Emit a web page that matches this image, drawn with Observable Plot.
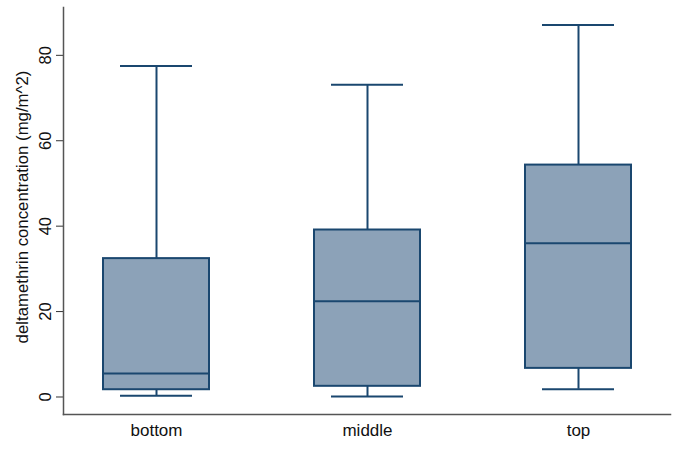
<!DOCTYPE html>
<html>
<head>
<meta charset="utf-8">
<script src="https://cdn.jsdelivr.net/npm/d3@7"></script>
<script src="https://cdn.jsdelivr.net/npm/@observablehq/plot@0.6"></script>
<style>
  html, body { margin: 0; padding: 0; background: #fff; }
  #chart svg { display: block; }
</style>
</head>
<body>
<div id="chart"></div>
<script>
const categories = ["bottom", "middle", "top"];
const lowerWhisker = [0.3, 0.1, 1.8];
const q1 = [1.7, 2.5, 6.7];
const median = [5.5, 22.4, 36.0];
const q3 = [32.4, 39.1, 54.3];
const upperWhisker = [77.5, 73.1, 87.1];
const yTicks = [0, 20, 40, 60, 80];
const yTitle = ["deltamethrin concentration (mg/m^2)"];

const data = categories.map((c, i) => ({
  cat: c, lo: lowerWhisker[i], q1: q1[i], med: median[i], q3: q3[i], hi: upperWhisker[i]
}));

const navy = "#1a476f";
const fill = "#8ca2b8";
const font = "Liberation Sans, Arial, sans-serif";

const chart = Plot.plot({
  width: 685,
  height: 452,
  marginLeft: 63,
  marginRight: 15,
  marginTop: 7,
  marginBottom: 38,
  style: { fontFamily: font, fontSize: "16px", color: "#111", background: "#fff" },
  x: { domain: categories, paddingInner: 0.5, paddingOuter: 0.183, align: 0.5 },
  y: { domain: [-4.1, 91.2] },
  marks: [
    Plot.ruleX(data, { x: "cat", y1: "q3", y2: "hi", stroke: navy, strokeWidth: 2 }),
    Plot.ruleX(data, { x: "cat", y1: "lo", y2: "q1", stroke: navy, strokeWidth: 2 }),
    Plot.barY(data, { x: "cat", y1: "q1", y2: "q3", fill: fill, stroke: navy, strokeWidth: 2 }),
    Plot.tickY(data, { x: "cat", y: "med", stroke: navy, strokeWidth: 2 }),
    Plot.tickY(data, { x: "cat", y: "hi", stroke: navy, strokeWidth: 2, insetLeft: 17, insetRight: 17 }),
    Plot.tickY(data, { x: "cat", y: "lo", stroke: navy, strokeWidth: 2, insetLeft: 17, insetRight: 17 }),
    Plot.axisY({
      ticks: yTicks, tickSize: 7, tickPadding: 6, tickRotate: -90,
      fontSize: 16.5, stroke: "#333", strokeWidth: 1, label: null
    }),
    Plot.text(yTitle, {
      text: d => d, frameAnchor: "left", textAnchor: "middle", rotate: -90, dx: -41, dy: -4,
      fontSize: 16.8, fill: "#111"
    }),
    Plot.axisX({ tickSize: 0, tickPadding: 9, fontSize: 17, label: null }),
    Plot.frame({ anchor: "left", stroke: "#555", strokeWidth: 1.5 }),
    Plot.frame({ anchor: "bottom", stroke: "#555", strokeWidth: 1.5 })
  ]
});
document.getElementById("chart").appendChild(chart);
</script>
</body>
</html>
